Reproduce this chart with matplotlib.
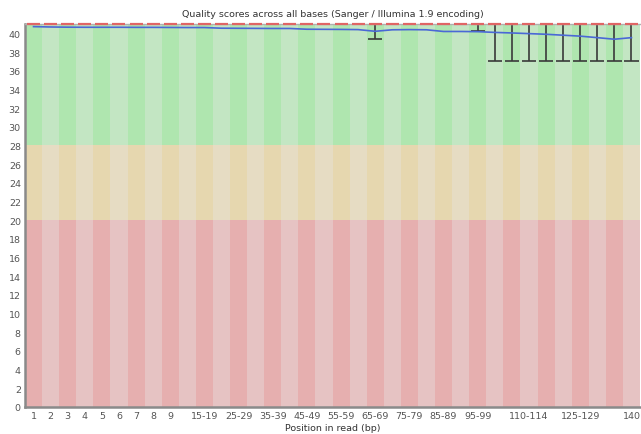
import numpy as np
import matplotlib.pyplot as plt

# position groups along the read
groups = ["1", "2", "3", "4", "5", "6", "7", "8", "9",
          "10-14", "15-19", "20-24", "25-29", "30-34", "35-39", "40-44", "45-49",
          "50-54", "55-59", "60-64", "65-69", "70-74", "75-79", "80-84", "85-89",
          "90-94", "95-99", "100-104", "105-109", "110-114", "115-119", "120-124",
          "125-129", "130-134", "135-139", "140"]
shown_labels = ["1", "2", "3", "4", "5", "6", "7", "8", "9", "15-19", "25-29", "35-39",
                "45-49", "55-59", "65-69", "75-79", "85-89", "95-99", "110-114", "125-129", "140"]

mean_q = [40.72, 40.68, 40.66, 40.65, 40.65, 40.65, 40.64, 40.64, 40.63,
          40.62, 40.62, 40.55, 40.54, 40.53, 40.52, 40.52, 40.44,
          40.43, 40.42, 40.4, 40.22, 40.38, 40.4, 40.38, 40.2,
          40.2, 40.18, 40.1, 40.04, 39.97, 39.9, 39.8,
          39.7, 39.54, 39.37, 39.54]
median_q = [41] * 36
upper_whisker = [41] * 36
lower_whisker = [41, 41, 41, 41, 41, 41, 41, 41, 41,
                 41, 41, 41, 41, 41, 41, 41, 41,
                 41, 41, 41, 39.4, 41, 41, 41, 41,
                 41, 40.25, 37, 37, 37, 37, 37,
                 37, 37, 37, 37]

# quality zones: (low, high, dark colour, light colour)
zones = [(0, 20, "#e6afaf", "#e6c3c3"),
         (20, 28, "#e6d7af", "#e6dcc3"),
         (28, 41, "#afe6af", "#c3e6c3")]

fig = plt.figure(figsize=(6.41, 4.35), dpi=100)
ax = fig.add_axes([25 / 641, 1 - 408 / 435, 615 / 641, 383 / 435])

n = len(groups)
x = np.arange(n)
for lo, hi, dark, light in zones:
    for i in range(n):
        ax.axhspan(lo, hi, xmin=i / n, xmax=(i + 1) / n,
                   color=dark if i % 2 == 0 else light, lw=0, zorder=0)

# whiskers
for i in range(n):
    if lower_whisker[i] < upper_whisker[i]:
        ax.vlines(x[i], lower_whisker[i], upper_whisker[i], color="#3a3a3a", lw=1.2, zorder=2)
        ax.hlines(lower_whisker[i], x[i] - 0.42, x[i] + 0.42, color="#3a3a3a", lw=1.2, zorder=2)

# median segments and mean line
ax.hlines(median_q, x - 0.38, x + 0.38, color="#e06565", lw=1.6, zorder=3, clip_on=False)
ax.plot(x, mean_q, color="#4a68d6", lw=1.2, zorder=4)

ax.set_xlim(-0.5, n - 0.5)
ax.set_ylim(0, 41)
ax.set_yticks(range(0, 41, 2))
ax.set_xticks(x)
ax.set_xticklabels([g if g in shown_labels else "" for g in groups])
ax.tick_params(length=0, labelsize=6.8, colors="#555555", pad=3)

for side in ["left", "bottom", "top"]:
    ax.spines[side].set_color("#8a8a8a")
    ax.spines[side].set_linewidth(1.8)
ax.spines["top"].set_linewidth(1.0)
ax.spines["top"].set_color("#b0b0b0")
ax.spines["right"].set_visible(False)

ax.set_title("Quality scores across all bases (Sanger / Illumina 1.9 encoding)",
             fontsize=6.8, color="#333333", pad=6)
ax.set_xlabel("Position in read (bp)", fontsize=6.8, color="#333333", labelpad=2)

fig.savefig("out.png", dpi=100)
